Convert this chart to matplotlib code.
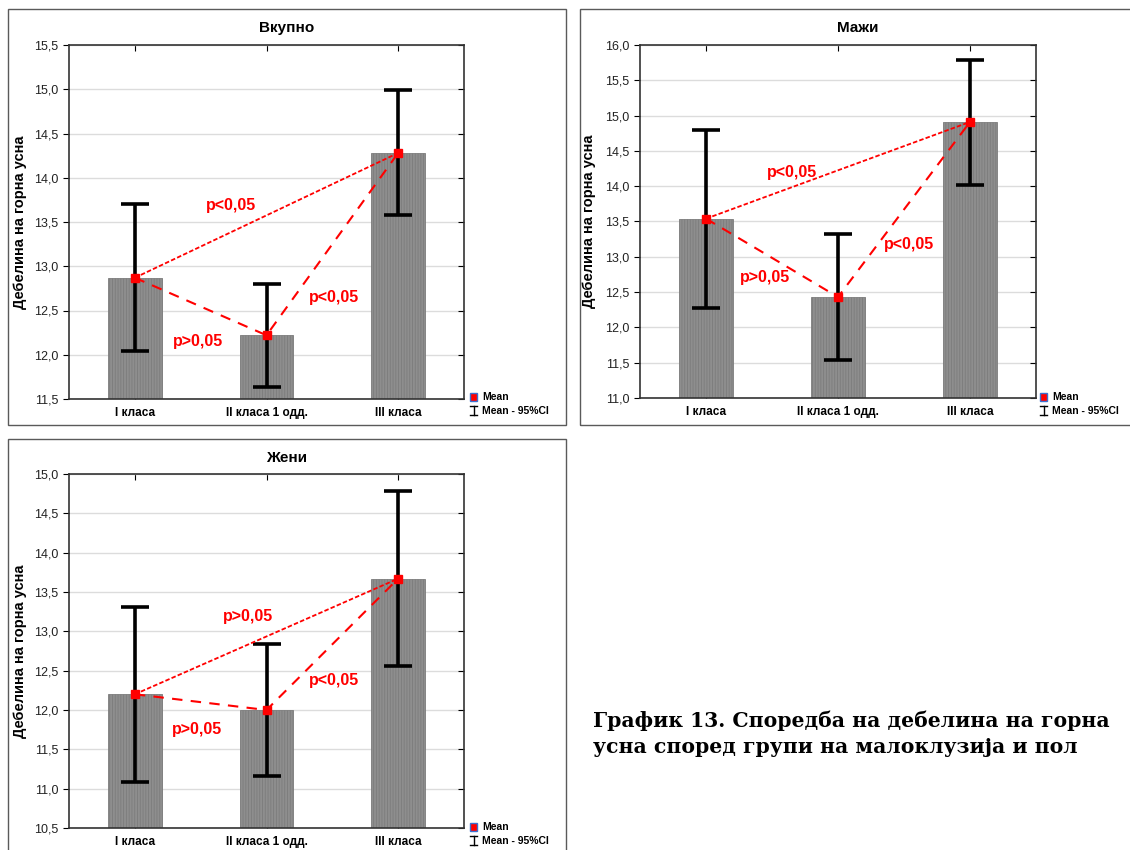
import numpy as np
import matplotlib
matplotlib.use("Agg")
import matplotlib.pyplot as plt
from matplotlib.patches import Rectangle
from matplotlib.lines import Line2D
from matplotlib.ticker import FuncFormatter, MultipleLocator

plt.rcParams['font.family'] = ['Liberation Sans', 'DejaVu Sans']
plt.rcParams['hatch.linewidth'] = 0.6

W, H = 1130, 850

# Data
groups = ['I класа', 'II класа 1 одд.', 'III класа']

total_mean = [12.87, 12.22, 14.28]
total_lo = [12.04, 11.64, 13.58]
total_hi = [13.70, 12.80, 14.99]

male_mean = [13.54, 12.43, 14.91]
male_lo = [12.27, 11.54, 14.01]
male_hi = [14.80, 13.33, 15.79]

female_mean = [12.20, 12.00, 13.67]
female_lo = [11.09, 11.16, 12.56]
female_hi = [13.31, 12.84, 14.78]

# p-value labels: (I vs III, II vs III, I vs II)
total_p = ['p<0,05', 'p<0,05', 'p>0,05']
male_p = ['p<0,05', 'p<0,05', 'p>0,05']
female_p = ['p>0,05', 'p<0,05', 'p>0,05']


def px(x, y):
    # pixel coords (top-left origin) -> figure fraction
    return x / W, 1 - y / H


def frame(x0, y0, x1, y1):
    fig.add_artist(Rectangle(px(x0, y1), (x1 - x0) / W, (y1 - y0) / H,
                             transform=fig.transFigure, fill=False,
                             edgecolor='#5a5a5a', lw=1.0, clip_on=False))


def legend(x, y):
    # small "Mean" square and CI whisker symbol, drawn in pixels
    fig.add_artist(Rectangle(px(x, y + 5), 7 / W, 8 / H, transform=fig.transFigure,
                             facecolor='red', edgecolor='#3b6fd0', lw=1.0))
    fig.text(*px(x + 12, y + 1), 'Mean', fontsize=7.5, fontweight='bold', va='center')
    yy = y + 15
    for seg in [((x + 3.5, yy - 5), (x + 3.5, yy + 4)),
                ((x, yy - 5), (x + 7, yy - 5)),
                ((x, yy + 4), (x + 7, yy + 4))]:
        (a, b), (c, d) = seg
        fig.add_artist(Line2D([a / W, c / W], [1 - b / H, 1 - d / H],
                              transform=fig.transFigure, color='black', lw=1.0))
    fig.text(*px(x + 12, yy), 'Mean - 95%CI', fontsize=7.5, fontweight='bold', va='center')


def panel(rect, title, title_x, title_y, mean, lo, hi, ylim, pvals, ppos, label_x):
    ax = fig.add_axes(rect)
    x = np.arange(len(groups))
    mean = np.array(mean)
    err = [mean - np.array(lo), np.array(hi) - mean]
    ax.bar(x, mean - ylim[0], bottom=ylim[0], width=0.41, color='#8e8e8e',
           edgecolor='#7c7c7c', hatch='||||||', lw=0.6, zorder=2)
    ax.errorbar(x, mean, yerr=err, fmt='none', ecolor='black', elinewidth=2.6,
                capsize=10, capthick=2.6, zorder=3)
    # connecting dashed lines between means
    ax.plot([x[0], x[2]], [mean[0], mean[2]], color='red', lw=1.3,
            dashes=(2.5, 1.2), zorder=4)
    ax.plot([x[0], x[1], x[2]], [mean[0], mean[1], mean[2]], color='red', lw=1.5,
            dashes=(5, 4), zorder=4)
    ax.plot(x, mean, 's', color='red', ms=6, zorder=5)
    for txt, (tx, ty) in zip(pvals, ppos):
        ax.text(tx, ty, txt, color='red', fontsize=11.5, fontweight='bold',
                ha='center', va='center',
                family=['Liberation Sans Narrow', 'Liberation Sans'], zorder=6)
    ax.set_xlim(-0.5, 2.5)
    ax.set_ylim(*ylim)
    ax.yaxis.set_major_locator(MultipleLocator(0.5))
    ax.yaxis.set_major_formatter(FuncFormatter(lambda v, p: f'{v:.1f}'.replace('.', ',')))
    ax.set_xticks(x)
    ax.set_xticklabels(groups, fontsize=8.5, fontweight='bold')
    ax.tick_params(axis='y', labelsize=9, direction='out', length=4, right=True,
                   labelcolor='#222222')
    ax.tick_params(axis='x', direction='in', length=4, top=True, pad=6)
    for t in ax.yaxis.get_major_ticks():
        t.tick2line.set_marker(0)  # inward on the right side
    ax.grid(axis='y', color='#dcdcdc', lw=1.0, zorder=0)
    ax.set_axisbelow(True)
    for s in ax.spines.values():
        s.set_color('#333333')
        s.set_linewidth(1.2)
    ax.set_ylabel('Дебелина на горна усна', fontsize=10.5, fontweight='bold')
    ax.yaxis.set_label_coords(label_x, 0.5)
    fig.text(*px(title_x, title_y), title, fontsize=11, fontweight='bold',
             ha='center', va='center')
    return ax


fig = plt.figure(figsize=(W / 100, H / 100), dpi=100)

frame(8, 9, 566, 425)
frame(580, 9, 1135, 425)
frame(8, 439, 566, 855)

panel([69 / W, 1 - 399 / H, 395 / W, 354 / H], 'Вкупно', 287, 28,
      total_mean, total_lo, total_hi, (11.5, 15.5), total_p,
      [(0.73, 13.69), (1.51, 12.645), (0.48, 12.155)], -0.106)
panel([640 / W, 1 - 398 / H, 396 / W, 353 / H], 'Мажи', 858, 28,
      male_mean, male_lo, male_hi, (11.0, 16.0), male_p,
      [(0.65, 14.19), (1.54, 13.18), (0.45, 12.71)], -0.111)
panel([69 / W, 1 - 828 / H, 395 / W, 354 / H], 'Жени', 287, 458,
      female_mean, female_lo, female_hi, (10.5, 15.0), female_p,
      [(0.86, 13.185), (1.51, 12.37), (0.47, 11.756)], -0.106)

legend(470, 396)
legend(1040, 396)
legend(470, 826)

fig.text(*px(593, 721), 'График 13. Споредба на дебелина на горна',
         fontsize=14.7, fontweight='bold', family='DejaVu Serif', va='center')
fig.text(*px(593, 747), 'усна според групи на малоклузија и пол',
         fontsize=14.7, fontweight='bold', family='DejaVu Serif', va='center')

fig.savefig('out.png', dpi=100)
